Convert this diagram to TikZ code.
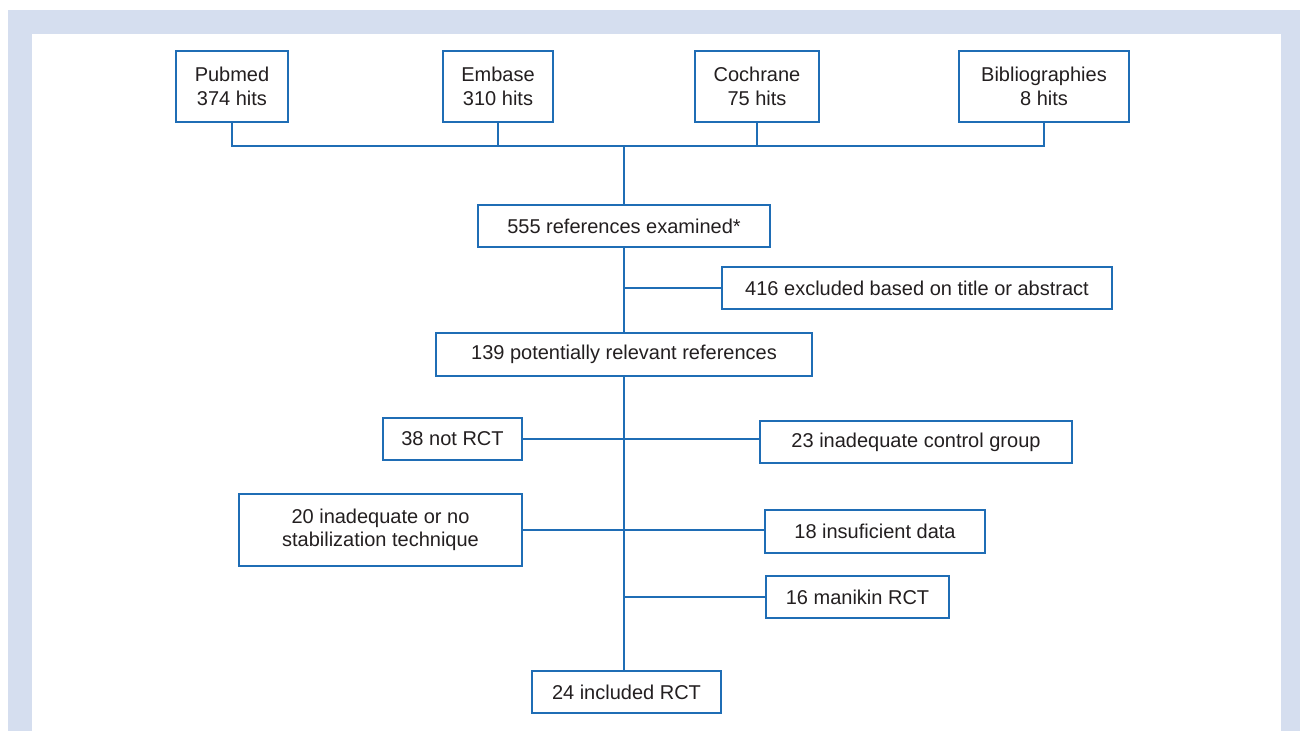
\documentclass[tikz,border=0pt]{standalone}
\usepackage{fontspec}
\setmainfont{Liberation Sans}
\definecolor{band}{HTML}{D5DEEF}
\definecolor{lineblue}{HTML}{1F6DB5}
\definecolor{txt}{HTML}{231F20}
\begin{document}
\begin{tikzpicture}[x=1pt,y=-1pt,
  box/.style={draw=lineblue,line width=1.4pt,fill=white,inner sep=0pt,align=center,
    font=\fontsize{20}{23.5}\selectfont,text=txt,minimum height=42pt},
  conn/.style={draw=lineblue,line width=1.4pt}]
\useasboundingbox (0,0) rectangle (1300,731);
\fill[white] (0,0) rectangle (1300,731);
\fill[band] (8,10) rectangle (1300,731);
\fill[white] (32,34) rectangle (1281,731);
% nodes
\node[box,minimum width=112pt,minimum height=71pt] (pub) at (232,86.5) {Pubmed\\374 hits};
\node[box,minimum width=110pt,minimum height=71pt] (emb) at (498,86.5) {Embase\\310 hits};
\node[box,minimum width=124pt,minimum height=71pt] (coc) at (757,86.5) {Cochrane\\75 hits};
\node[box,minimum width=170pt,minimum height=71pt] (bib) at (1044,86.5) {Bibliographies\\8 hits};
\coordinate (jl) at (232,146);
\coordinate (jr) at (1044,146);
\coordinate (jm) at (624,146);
\node[box,minimum width=292pt] (ex555) at (624,226) {555 references examined*};
\node[box,minimum width=390pt] (ex416) at (917,288) {416 excluded based on title or abstract};
\node[box,minimum width=376pt,minimum height=43pt] (rel139) at (624,354.5) {139 potentially relevant references};
\node[box,minimum width=139pt] (not38) at (452.5,439) {38 not RCT};
\node[box,minimum width=312pt] (ctl23) at (916,442) {23 inadequate control group};
\node[box,minimum width=283pt,minimum height=72pt] (stab20) at (380.5,530) {20 inadequate or no\\stabilization technique};
\node[box,minimum width=220pt,minimum height=43pt] (ins18) at (875,531.5) {18 insuficient data};
\node[box,minimum width=183pt] (man16) at (857.5,597) {16 manikin RCT};
\node[box,minimum width=189pt] (inc24) at (626.5,692) {24 included RCT};
% connectors
\path[conn] (pub.south) -- (jl) -- (jr) -- (bib.south);
\path[conn] (emb.south) -- (emb.south |- jl);
\path[conn] (coc.south) -- (coc.south |- jl);
\path[conn] (jm) -- (jm |- ex555.north);
\path[conn] (ex555.south) -- (ex555.south |- rel139.north);
\path[conn] (ex416.west) -- (ex416.west -| ex555.south);
\path[conn] (rel139.south) -- (rel139.south |- inc24.north);
\path[conn] (not38.east) -- (not38.east -| ctl23.west);
\path[conn] (stab20.east) -- (stab20.east -| ins18.west);
\path[conn] (man16.west) -- (man16.west -| rel139.south);
\end{tikzpicture}
\end{document}
